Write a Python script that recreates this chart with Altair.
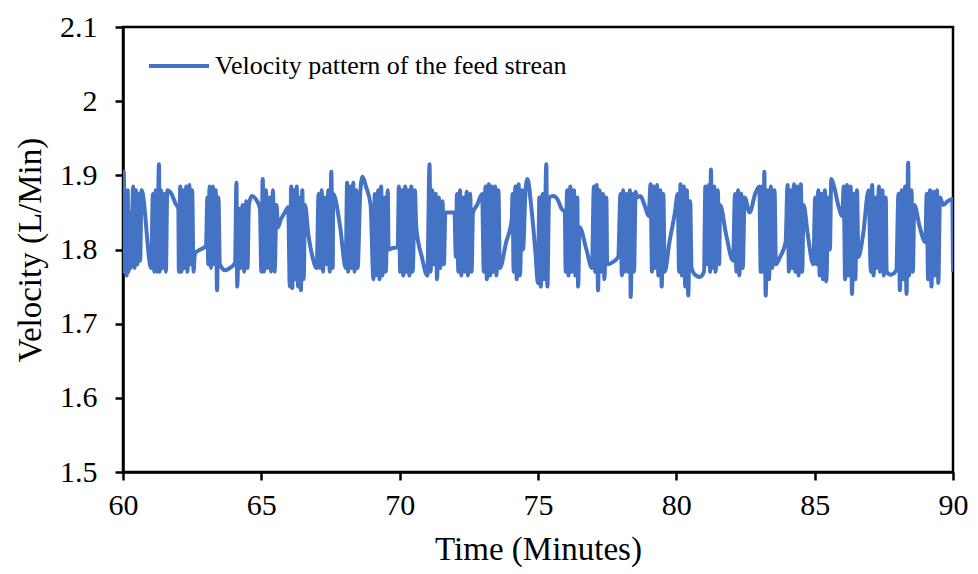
import altair as alt
import pandas as pd

# Time (minutes) and velocity (L/Min), 5 blocks
t_a = [60.00, 60.03, 60.06, 60.10, 60.13, 60.17, 60.20, 60.25, 60.28,
       60.37, 60.42, 60.47, 60.52, 60.58, 60.62, 60.67, 61.02,
       61.08, 61.13, 61.18, 61.23, 61.30, 61.33, 61.38, 61.43, 61.50, 61.55, 61.60,
       61.75, 61.90, 62.00,
       62.02, 62.07, 62.12, 62.17, 62.22, 62.28, 62.33, 62.40, 62.45, 62.50, 62.55,
       62.60, 62.80, 63.00,
       63.05, 63.08, 63.13, 63.18, 63.25, 63.30, 63.35, 63.40, 63.45, 63.50,
       63.70, 63.90, 64.05,
       64.10, 64.13, 64.20, 64.25, 64.32, 64.38, 64.45, 64.50, 64.55,
       64.65, 64.80, 64.95,
       65.00, 65.05, 65.10, 65.17, 65.22, 65.30, 65.35, 65.42, 65.48, 65.55, 65.60,
       65.70, 65.85, 65.97]
v_a = [1.800, 1.905, 1.770, 1.860, 1.765, 1.880, 1.770, 1.850, 1.775,
       1.885, 1.775, 1.880, 1.780, 1.875, 1.785, 1.880, 1.775,
       1.875, 1.770, 1.880, 1.770, 1.915, 1.770, 1.880, 1.775, 1.875, 1.770, 1.880,
       1.875, 1.862, 1.855,
       1.770, 1.885, 1.770, 1.880, 1.775, 1.885, 1.770, 1.887, 1.780, 1.880, 1.770,
       1.795, 1.800, 1.805,
       1.870, 1.780, 1.885, 1.775, 1.885, 1.780, 1.880, 1.745, 1.870, 1.780,
       1.772, 1.776, 1.782,
       1.890, 1.750, 1.855, 1.775, 1.860, 1.770, 1.865, 1.775, 1.860,
       1.872, 1.868, 1.855,
       1.770, 1.895, 1.770, 1.880, 1.775, 1.870, 1.770, 1.880, 1.770, 1.860, 1.830,
       1.840, 1.850, 1.857]

t_b = [66.03, 66.08, 66.12, 66.17, 66.22, 66.28, 66.33, 66.38, 66.43, 66.48, 66.53, 66.58,
       66.70, 66.85, 67.00,
       67.07, 67.12, 67.18, 67.23, 67.30, 67.35, 67.42, 67.47, 67.53, 67.58, 67.60,
       67.85, 68.05,
       68.10, 68.14, 68.20, 68.25, 68.32, 68.37, 68.43, 68.48,
       68.58, 68.66, 68.78, 68.95,
       69.05, 69.10, 69.15, 69.22, 69.27, 69.33, 69.38, 69.45, 69.50, 69.57, 69.60,
       69.75, 69.93,
       69.97, 70.02, 70.08, 70.13, 70.20, 70.25, 70.30, 70.35, 70.42, 70.47, 70.55, 70.60,
       70.80, 71.00,
       71.08, 71.12, 71.18, 71.23, 71.30, 71.35, 71.42, 71.47, 71.55, 71.60, 71.65,
       71.80, 71.98]
v_b = [1.750, 1.885, 1.748, 1.880, 1.760, 1.885, 1.750, 1.870, 1.745, 1.880, 1.760, 1.860,
       1.820, 1.790, 1.775,
       1.875, 1.775, 1.880, 1.770, 1.870, 1.780, 1.880, 1.770, 1.905, 1.775, 1.875,
       1.830, 1.775,
       1.890, 1.770, 1.885, 1.775, 1.890, 1.770, 1.880, 1.775,
       1.880, 1.898, 1.885, 1.860,
       1.760, 1.875, 1.765, 1.880, 1.760, 1.885, 1.765, 1.870, 1.770, 1.880, 1.800,
       1.802, 1.803,
       1.885, 1.770, 1.880, 1.765, 1.885, 1.770, 1.880, 1.765, 1.885, 1.770, 1.880, 1.830,
       1.790, 1.765,
       1.915, 1.770, 1.880, 1.780, 1.875, 1.760, 1.870, 1.775, 1.865, 1.780, 1.850,
       1.850, 1.850]

t_c = [72.03, 72.07, 72.12, 72.18, 72.23, 72.30, 72.35, 72.42, 72.47, 72.55, 72.60, 72.65,
       72.80, 72.98,
       73.04, 73.10, 73.15, 73.22, 73.27, 73.33, 73.38, 73.45, 73.50, 73.57, 73.62,
       73.85, 74.05,
       74.08, 74.12, 74.18, 74.23, 74.30, 74.35, 74.42, 74.46,
       74.55, 74.62, 74.75, 74.90, 75.00,
       75.05, 75.10, 75.17, 75.22, 75.30, 75.34, 75.40,
       75.55, 75.70, 75.85, 75.97,
       76.00, 76.05, 76.10, 76.17, 76.22, 76.30, 76.35, 76.42, 76.45,
       76.50, 76.75, 76.95,
       77.02, 77.07, 77.12, 77.17, 77.23, 77.28, 77.35, 77.40, 77.47, 77.50,
       77.70, 77.90]
v_c = [1.790, 1.875, 1.770, 1.880, 1.765, 1.870, 1.770, 1.878, 1.765, 1.875, 1.770, 1.850,
       1.860, 1.875,
       1.770, 1.885, 1.760, 1.888, 1.765, 1.885, 1.770, 1.885, 1.765, 1.880, 1.775,
       1.810, 1.840,
       1.875, 1.770, 1.885, 1.760, 1.888, 1.765, 1.880, 1.800,
       1.880, 1.895, 1.860, 1.800, 1.755,
       1.870, 1.750, 1.875, 1.760, 1.915, 1.750, 1.870,
       1.872, 1.868, 1.855, 1.850,
       1.770, 1.880, 1.765, 1.885, 1.770, 1.880, 1.765, 1.870, 1.750,
       1.830, 1.800, 1.775,
       1.885, 1.770, 1.887, 1.745, 1.880, 1.770, 1.875, 1.760, 1.870, 1.780,
       1.783, 1.790]

t_d = [77.98, 78.03, 78.08, 78.13, 78.20, 78.25, 78.32, 78.35, 78.42, 78.47, 78.53, 78.57,
       78.70, 78.85, 79.00,
       79.07, 79.12, 79.18, 79.23, 79.30, 79.35, 79.42, 79.47, 79.53, 79.58,
       79.75, 79.95, 80.05,
       80.10, 80.15, 80.20, 80.27, 80.32, 80.38, 80.43, 80.50, 80.55,
       80.70, 80.85, 81.00,
       81.05, 81.10, 81.17, 81.22, 81.25, 81.30, 81.37, 81.42, 81.50, 81.55, 81.58,
       81.80, 82.05,
       82.12, 82.17, 82.23, 82.28, 82.35, 82.40, 82.47,
       82.65, 82.85, 83.00,
       83.05, 83.10, 83.15, 83.18, 83.23, 83.30, 83.35, 83.42, 83.47, 83.55, 83.60,
       83.75, 83.95]
v_d = [1.875, 1.765, 1.880, 1.770, 1.875, 1.770, 1.880, 1.736, 1.875, 1.770, 1.878, 1.870,
       1.872, 1.860, 1.845,
       1.888, 1.770, 1.885, 1.775, 1.887, 1.765, 1.880, 1.750, 1.875, 1.770,
       1.810, 1.850, 1.875,
       1.770, 1.888, 1.765, 1.885, 1.750, 1.880, 1.738, 1.865, 1.775,
       1.765, 1.763, 1.770,
       1.885, 1.780, 1.887, 1.770, 1.908, 1.775, 1.885, 1.770, 1.880, 1.780, 1.860,
       1.820, 1.785,
       1.875, 1.770, 1.880, 1.765, 1.875, 1.775, 1.870,
       1.850, 1.875, 1.885,
       1.770, 1.885, 1.770, 1.905, 1.738, 1.880, 1.760, 1.885, 1.775, 1.880, 1.780,
       1.790, 1.810]

t_e = [84.02, 84.07, 84.13, 84.18, 84.25, 84.30, 84.37, 84.42, 84.50, 84.55, 84.60,
       84.75, 84.95,
       85.02, 85.07, 85.13, 85.18, 85.25, 85.30, 85.37, 85.42, 85.50, 85.55,
       85.60, 85.70, 85.85, 86.00,
       86.05, 86.10, 86.17, 86.22, 86.30, 86.35, 86.42, 86.47, 86.53, 86.58,
       86.75, 86.95,
       87.03, 87.08, 87.13, 87.20, 87.25, 87.32, 87.37, 87.45, 87.50, 87.57, 87.60,
       87.75, 87.95,
       88.03, 88.08, 88.15, 88.20, 88.27, 88.32, 88.38, 88.42, 88.50, 88.55, 88.60,
       88.80, 89.00,
       89.05, 89.10, 89.17, 89.22, 89.30, 89.35, 89.42, 89.47, 89.53,
       89.65, 89.80, 89.98, 90.00]
v_e = [1.887, 1.770, 1.880, 1.775, 1.888, 1.770, 1.885, 1.765, 1.888, 1.770, 1.860,
       1.820, 1.780,
       1.870, 1.780, 1.880, 1.765, 1.875, 1.760, 1.880, 1.757, 1.870, 1.800,
       1.895, 1.885, 1.860, 1.845,
       1.885, 1.760, 1.887, 1.765, 1.885, 1.740, 1.875, 1.760, 1.880, 1.790,
       1.820, 1.880,
       1.770, 1.887, 1.765, 1.870, 1.775, 1.885, 1.770, 1.880, 1.765, 1.870, 1.770,
       1.766, 1.772,
       1.875, 1.745, 1.880, 1.760, 1.885, 1.740, 1.917, 1.765, 1.880, 1.770, 1.860,
       1.830, 1.810,
       1.875, 1.760, 1.880, 1.750, 1.878, 1.765, 1.880, 1.755, 1.870,
       1.860, 1.865, 1.868, 1.770]

x_ticks = [60, 65, 70, 75, 80, 85, 90]
y_ticks = [1.5, 1.6, 1.7, 1.8, 1.9, 2.0, 2.1]
series_name = "Velocity pattern of the feed strean"

times = t_a + t_b + t_c + t_d + t_e
values = v_a + v_b + v_c + v_d + v_e
df = pd.DataFrame({"t": times, "v": values, "s": series_name})

FONT = "Liberation Serif"

axis_common = dict(grid=False, labelFont=FONT, titleFont=FONT, labelColor="black",
                   titleColor="black", titleFontWeight="normal", domainColor="black",
                   domainWidth=2.5, tickColor="black", tickWidth=2.5, tickSize=8,
                   labelFontSize=30, titleFontSize=33, labelFlush=False,
                   labelOverlap=False)

chart = alt.Chart(df).mark_line(
    strokeWidth=4, interpolate="monotone", clip=True
).encode(
    x=alt.X("t:Q", scale=alt.Scale(domain=[60, 90], nice=False, zero=False),
            axis=alt.Axis(values=x_ticks, title="Time (Minutes)", labelPadding=10,
                          titlePadding=13, format="d", **axis_common)),
    y=alt.Y("v:Q", scale=alt.Scale(domain=[1.5, 2.1], nice=False, zero=False),
            axis=alt.Axis(values=y_ticks, title="Velocity (L/Min)", labelPadding=18,
                          titlePadding=12, format=".1~f", **axis_common)),
    color=alt.Color("s:N", scale=alt.Scale(range=["#4472C4"]),
                    legend=alt.Legend(title=None, orient="none", legendX=24, legendY=7,
                                      symbolType="stroke", symbolSize=3600,
                                      symbolStrokeWidth=4, labelFontSize=26,
                                      labelFont=FONT, labelColor="black",
                                      labelOffset=4, padding=0, labelLimit=600)),
    order=alt.Order("t:Q"),
).properties(
    width=830, height=445,
    background="white",
    autosize=alt.AutoSizeParams(type="none"),
    padding={"left": 123, "top": 27, "right": 25, "bottom": 102},
).configure_view(
    stroke="black", strokeWidth=2.5
)

chart.save("out.html", embed_options={"renderer": "svg", "actions": False})
